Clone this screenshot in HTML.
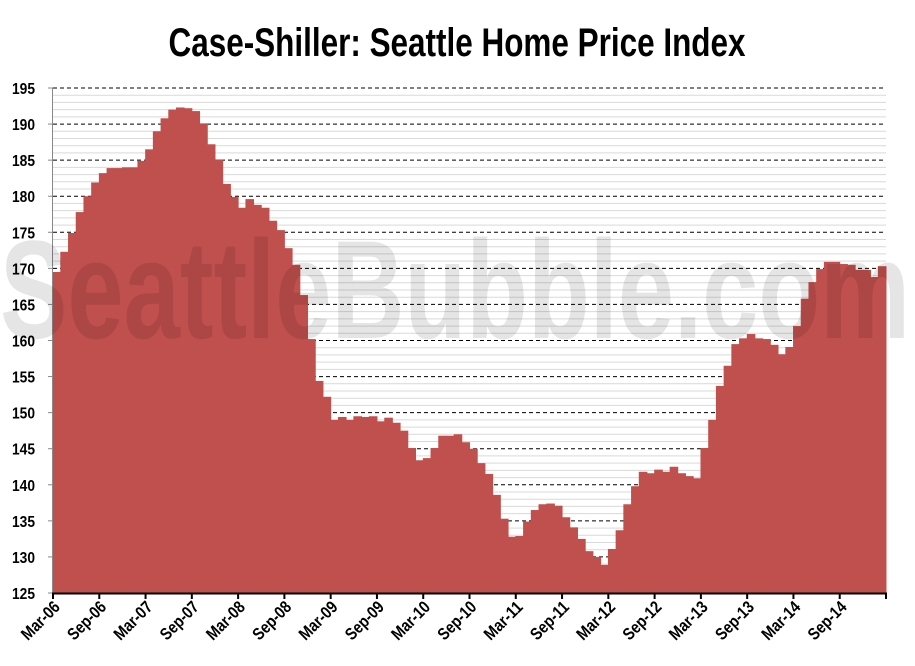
<!DOCTYPE html>
<html><head><meta charset="utf-8"><style>
html,body{margin:0;padding:0;background:#fff;}
svg{display:block;}
text{font-family:"Liberation Sans",sans-serif;}
</style></head><body>
<svg id="chart" width="915" height="666" viewBox="0 0 915 666" xmlns="http://www.w3.org/2000/svg">
<rect width="915" height="666" fill="#fff"/>
<text x="457" y="56" text-anchor="middle" font-size="40" font-weight="bold" textLength="577" lengthAdjust="spacingAndGlyphs" fill="#000">Case-Shiller: Seattle Home Price Index</text>
<g id="grid"></g>
<g id="bars"></g>
<g id="axes"></g>
<text x="455" y="338" text-anchor="middle" font-size="140" font-weight="bold" textLength="910" lengthAdjust="spacingAndGlyphs" fill="#000" fill-opacity="0.1">SeattleBubble.com</text>
</svg>
<script>
const values = [169.5,172.3,174.9,177.8,180.0,181.9,183.2,183.9,183.9,184.0,184.0,184.9,186.5,189.0,190.8,192.0,192.3,192.2,191.8,190.1,187.2,185.1,181.7,179.9,178.4,179.6,178.8,178.4,176.6,175.3,172.8,170.5,166.3,160.2,154.4,152.2,149.0,149.4,149.0,149.5,149.4,149.5,148.8,149.3,148.6,147.5,145.1,143.4,143.7,145.1,146.8,146.8,147.0,145.9,145.0,143.0,141.5,138.6,135.3,132.8,132.9,134.9,136.5,137.3,137.4,137.1,135.5,134.1,132.5,130.8,130.0,128.9,131.1,133.7,137.3,139.8,141.8,141.6,142.1,141.8,142.5,141.6,141.2,140.9,145.1,149.0,153.7,156.5,159.5,160.3,160.9,160.3,160.2,159.4,158.1,159.1,162.0,165.8,168.1,169.9,170.9,170.9,170.6,170.5,169.8,169.8,168.8,170.3];
const xLabels = ["Mar-06","Sep-06","Mar-07","Sep-07","Mar-08","Sep-08","Mar-09","Sep-09","Mar-10","Sep-10","Mar-11","Sep-11","Mar-12","Sep-12","Mar-13","Sep-13","Mar-14","Sep-14"];
const yTicks = [125,130,135,140,145,150,155,160,165,170,175,180,185,190,195];

const NS = "http://www.w3.org/2000/svg";
const X0 = 53, X1 = 886, Y0 = 593, Y1 = 88, VMIN = 125, VMAX = 195;
const bw = (X1 - X0) / values.length;
function yScale(v){ return Y0 - (v - VMIN) * (Y0 - Y1) / (VMAX - VMIN); }
function xScale(i){ return X0 + i * bw; }
function mk(tag, attrs, parent){ const e = document.createElementNS(NS, tag); for (const k in attrs) e.setAttribute(k, attrs[k]); parent.appendChild(e); return e; }

const grid = document.getElementById('grid');
for (let v = VMIN + 1; v <= VMAX; v++) {
  if (v % 5 === 0) continue;
  const l = mk('line', {x1: X0, x2: X1, y1: yScale(v), y2: yScale(v), stroke: '#d9d9d9', 'stroke-width': 1}, grid);
  
  
}
yTicks.forEach(v => {
  if (v === VMIN) return;
  const l = mk('line', {x1: X0, x2: X1, y1: yScale(v), y2: yScale(v), stroke: '#000', 'stroke-width': 1, 'stroke-dasharray': '4,3'}, grid);
  
  
});

const bars = document.getElementById('bars');
values.forEach((v, i) => {
  const y = yScale(v);
  const r = mk('rect', {x: xScale(i) - 0.4, y: y, width: bw + 0.9, height: Y0 - y, fill: '#c0504d'}, bars);
  
  
});

const axes = document.getElementById('axes');
const ya = mk('line', {x1: X0 - 0.5, x2: X0 - 0.5, y1: Y1, y2: Y0, stroke: '#888', 'stroke-width': 1}, axes);


yTicks.forEach(v => {
  mk('line', {x1: X0 - 5, x2: X0, y1: yScale(v), y2: yScale(v), stroke: '#888', 'stroke-width': 1}, axes);
  const t = mk('text', {x: 35, y: yScale(v) + 6, 'text-anchor': 'end', 'font-size': 16, 'font-weight': 'bold', textLength: 23, lengthAdjust: 'spacingAndGlyphs', fill: '#000'}, axes);
  t.textContent = v;
  
  
});
const xa = mk('line', {x1: X0 - 1, x2: X1 + 1, y1: Y0 + 0.5, y2: Y0 + 0.5, stroke: '#000', 'stroke-width': 2}, axes);


for (let k = 0; k <= xLabels.length; k++) {
  const x = xScale(k * 6);
  mk('line', {x1: x, x2: x, y1: Y0, y2: Y0 + 6, stroke: '#000', 'stroke-width': 2}, axes);
}
xLabels.forEach((lab, k) => {
  const x = xScale(k * 6) + 8;
  const y = 608;
  const t = mk('text', {x: x, y: y, 'text-anchor': 'end', 'font-size': 17, 'font-weight': 'bold', textLength: lab.length * 7.8, lengthAdjust: 'spacingAndGlyphs', fill: '#000', transform: 'rotate(-45 ' + x + ' ' + y + ')'}, axes);
  t.textContent = lab;
  
  
});
</script>
</body></html>
